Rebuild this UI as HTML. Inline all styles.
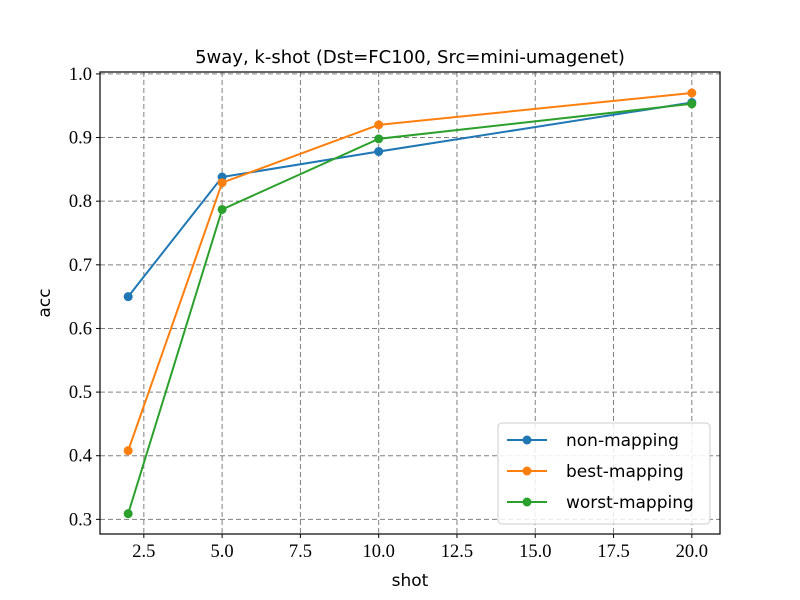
<!DOCTYPE html>
<html><head><meta charset="utf-8"><style>body{margin:0;background:#fff}svg{display:block}</style></head>
<body>
<svg id="c" width="800" height="600" xmlns="http://www.w3.org/2000/svg"></svg>
<script>
const shots = [2, 5, 10, 20];
const nonMapping = [0.650, 0.838, 0.878, 0.955];
const bestMapping = [0.408, 0.829, 0.920, 0.970];
const worstMapping = [0.309, 0.787, 0.898, 0.953];
const seriesNames = ["non-mapping", "best-mapping", "worst-mapping"];
const xTicks = [2.5, 5.0, 7.5, 10.0, 12.5, 15.0, 17.5, 20.0];
const yTicks = [0.3, 0.4, 0.5, 0.6, 0.7, 0.8, 0.9, 1.0];

const L=100,R=720,T=72,B=534;
const X0=1.1,X1=20.9,Y0=0.2770,Y1=1.0030;
const sx=v=>L+(v-X0)/(X1-X0)*(R-L);
const sy=v=>B-(v-Y0)/(Y1-Y0)*(B-T);
const svg=document.getElementById('c');
const NS='http://www.w3.org/2000/svg';
function mk(tag,attrs,parent){const e=document.createElementNS(NS,tag);for(const k in attrs)e.setAttribute(k,attrs[k]);(parent||svg).appendChild(e);return e;}
const serif='"Liberation Serif", serif', sans='"DejaVu Sans","Liberation Sans",sans-serif';

xTicks.forEach(t=>{
  const g=mk('g',{});
  
  
  mk('line',{x1:sx(t),x2:sx(t),y1:T,y2:B,stroke:'#808080','stroke-dasharray':'5,3','stroke-width':1},g);
  mk('line',{x1:sx(t),x2:sx(t),y1:B,y2:B+4,stroke:'#000'},g);
  const tx=mk('text',{x:sx(t),y:B+23,'text-anchor':'middle','font-family':serif,'font-size':18.5},g);
  tx.textContent=t.toFixed(1);
});
yTicks.forEach(t=>{
  const g=mk('g',{});
  
  
  mk('line',{x1:L,x2:R,y1:sy(t),y2:sy(t),stroke:'#808080','stroke-dasharray':'5,3','stroke-width':1},g);
  mk('line',{x1:L-4,x2:L,y1:sy(t),y2:sy(t),stroke:'#000'},g);
  const tx=mk('text',{x:L-8,y:sy(t)+6,'text-anchor':'end','font-family':serif,'font-size':18.5},g);
  tx.textContent=t.toFixed(1);
});
const colors=['#1f77b4','#ff7f0e','#2ca02c'];
[nonMapping,bestMapping,worstMapping].forEach((s,i)=>{
  const g=mk('g',{});
  
  
  mk('polyline',{points:s.map((v,j)=>sx(shots[j])+','+sy(v)).join(' '),fill:'none',stroke:colors[i],'stroke-width':2},g);
  s.forEach((v,j)=>{const c=mk('circle',{cx:sx(shots[j]),cy:sy(v),r:4.5,fill:colors[i]},g);
    
    });
});
const frame=mk('rect',{x:L,y:T,width:R-L,height:B-T,fill:'none',stroke:'#000','stroke-width':1.2});


const title=mk('text',{x:410,y:63,'text-anchor':'middle','font-family':sans,'font-size':18});
title.textContent='5way, k-shot (Dst=FC100, Src=mini-umagenet)';


const xl=mk('text',{x:410,y:586,'text-anchor':'middle','font-family':sans,'font-size':17});
xl.textContent='shot';


const yl=mk('text',{x:50,y:303,'text-anchor':'middle','font-family':sans,'font-size':17,transform:'rotate(-90 50 303)'});
yl.textContent='acc';


const lg=mk('g',{});


mk('rect',{x:498,y:423,width:212,height:101,rx:4,fill:'#fff','fill-opacity':0.85,stroke:'#ccc'},lg);
seriesNames.forEach((n,i)=>{
  const y=440+i*31;
  const e=mk('g',{},lg);
  
  
  mk('line',{x1:507,x2:547,y1:y,y2:y,stroke:colors[i],'stroke-width':2},e);
  mk('circle',{cx:527,cy:y,r:4.5,fill:colors[i]},e);
  const t=mk('text',{x:566,y:y+6,'font-family':sans,'font-size':17},e);
  t.textContent=n;
});
</script>
</body></html>
